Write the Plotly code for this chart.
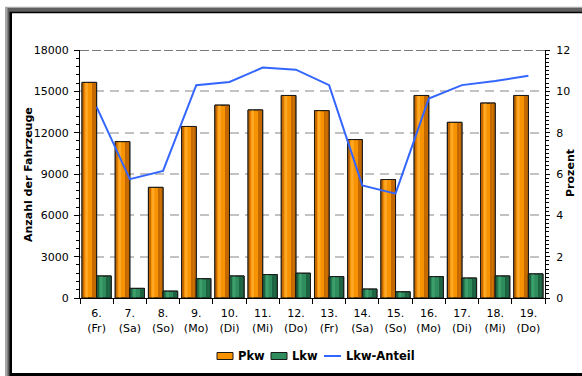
import plotly.graph_objects as go

# Daily traffic counts (cars, trucks) and truck share in percent
days = ["6.<br>(Fr)", "7.<br>(Sa)", "8.<br>(So)", "9.<br>(Mo)", "10.<br>(Di)",
        "11.<br>(Mi)", "12.<br>(Do)", "13.<br>(Fr)", "14.<br>(Sa)", "15.<br>(So)",
        "16.<br>(Mo)", "17.<br>(Di)", "18.<br>(Mi)", "19.<br>(Do)"]
pkw = [15650, 11350, 8030, 12450, 14000, 13650, 14700,
       13600, 11500, 8600, 14700, 12750, 14150, 14700]
lkw = [1600, 700, 500, 1400, 1600, 1700, 1800,
       1550, 650, 450, 1550, 1450, 1600, 1750]
lkw_anteil = [9.25, 5.75, 6.15, 10.3, 10.45, 11.15, 11.05,
              10.3, 5.45, 5.05, 9.65, 10.3, 10.5, 10.75]
series_names = ["Pkw", "Lkw", "Lkw-Anteil"]

FONT = "DejaVu Sans"
W, H = 582, 376
L, R, T, B = 80, 37, 50, 78
PW, PH = W - L - R, H - T - B

PKW_COL, PKW_EDGE, PKW_HI = "#f79200", "#c46800", "#ffa726"
LKW_COL, LKW_EDGE, LKW_HI = "#2f8c5c", "#1d6341", "#3da06c"
LINE_COL = "#3366ff"


def px(x):
    return (x - L) / PW


def py(y):
    return (H - B - y) / PH


BW = 0.44  # bar width in category units
fig = go.Figure()


def shaded_bars(vals, off, base_col, edge_col, hi_col, name):
    fig.add_bar(x=days, y=vals, name=name, offset=off, width=BW,
                marker=dict(color=base_col, line=dict(color="#1a1a1a", width=1)),
                yaxis="y")
    # cylinder-like shading strips
    for o, w, c in [(off + 0.02, 0.05, edge_col),
                    (off + 0.10, 0.08, hi_col),
                    (off + BW - 0.13, 0.05, edge_col),
                    (off + BW - 0.08, 0.07, edge_col)]:
        fig.add_bar(x=days, y=vals, offset=o, width=w, showlegend=False,
                    marker=dict(color=c, line=dict(width=0)), hoverinfo="skip")
    # outline on top
    fig.add_bar(x=days, y=vals, offset=off, width=BW, showlegend=False,
                marker=dict(color="rgba(0,0,0,0)", line=dict(color="#1a1a1a", width=1)),
                hoverinfo="skip")


shaded_bars(pkw, -BW, PKW_COL, PKW_EDGE, PKW_HI, series_names[0])
shaded_bars(lkw, 0.0, LKW_COL, LKW_EDGE, LKW_HI, series_names[1])

fig.add_scatter(x=days, y=lkw_anteil, name=series_names[2], mode="lines",
                line=dict(color=LINE_COL, width=2), yaxis="y2")

shapes = []
# framed border: light gray, dark gray, black, white inner panel
for x0, y0, col in [(5, 6.7, "#a8a8a8"), (7.5, 8, "#5f5f5f"),
                    (9.5, 11.7, "#000000")]:
    shapes.append(dict(type="rect", xref="paper", yref="paper", layer="below",
                       x0=px(x0), x1=px(700), y0=py(y0), y1=py(600),
                       fillcolor=col, line=dict(width=0)))
shapes.append(dict(type="rect", xref="paper", yref="paper", layer="below",
                   x0=px(12), x1=px(700), y0=py(13.3), y1=py(373),
                   fillcolor="#ffffff", line=dict(width=0)))
# top boundary of the plot area
shapes.append(dict(type="line", xref="paper", yref="y", layer="below",
                   x0=0, x1=1, y0=18000, y1=18000,
                   line=dict(color="#505050", width=1.5, dash="9px,3px")))

# compact legend row below the axis
LEG_Y = 356
annotations = []
for (sx0, sx1, tx), col, nm in [((217, 233, 236), PKW_COL, series_names[0]),
                                ((271, 287, 290), LKW_COL, series_names[1])]:
    shapes.append(dict(type="rect", xref="paper", yref="paper",
                       x0=px(sx0), x1=px(sx1), y0=py(LEG_Y - 3.5), y1=py(LEG_Y + 3.5),
                       fillcolor=col, line=dict(color="#1a1a1a", width=1)))
    annotations.append(dict(text="<b>%s</b>" % nm, xref="paper", yref="paper",
                            x=px(tx), y=py(LEG_Y), xanchor="left", yanchor="middle",
                            showarrow=False, font=dict(family=FONT, size=11.5)))
shapes.append(dict(type="line", xref="paper", yref="paper",
                   x0=px(324), x1=px(341), y0=py(LEG_Y), y1=py(LEG_Y),
                   line=dict(color=LINE_COL, width=2)))
annotations.append(dict(text="<b>%s</b>" % series_names[2], xref="paper", yref="paper",
                        x=px(344), y=py(LEG_Y), xanchor="left", yanchor="middle",
                        showarrow=False, font=dict(family=FONT, size=11.5)))

annotations += [
    dict(text="<b>Anzahl der Fahrzeuge</b>", xref="paper", yref="paper",
         x=px(28), y=py(175), xanchor="center", yanchor="middle",
         textangle=-90, showarrow=False, font=dict(family=FONT, size=11)),
    dict(text="<b>Prozent</b>", xref="paper", yref="paper",
         x=px(570), y=py(173), xanchor="center", yanchor="middle",
         textangle=-90, showarrow=False, font=dict(family=FONT, size=11)),
]

fig.update_layout(
    width=W, height=H,
    margin=dict(l=L, r=R, t=T, b=B),
    paper_bgcolor="#ffffff", plot_bgcolor="rgba(0,0,0,0)",
    barmode="overlay",
    font=dict(family=FONT, size=11, color="#000000"),
    shapes=shapes,
    annotations=annotations,
    showlegend=False,
    xaxis=dict(type="category", showline=True, linecolor="#000000", linewidth=1,
               ticks="outside", tickson="boundaries", ticklen=5, tickcolor="#000000",
               showgrid=False, tickfont=dict(size=11), tickangle=0,
               ticklabelstandoff=5, range=[-0.5, 13.5]),
    yaxis=dict(range=[0, 18000], dtick=3000, tickformat="d", showline=True,
               linecolor="#000000", linewidth=1, ticks="outside", ticklen=5,
               tickcolor="#000000",
               minor=dict(dtick=600, ticks="outside", ticklen=3, tickcolor="#000000"),
               showgrid=True, gridcolor="#c2c2c2", gridwidth=1.5, griddash="9px,6px",
               zeroline=False, tickfont=dict(size=11), ticklabelstandoff=3),
    yaxis2=dict(range=[0, 12], dtick=2, overlaying="y", side="right",
                showline=True, linecolor="#000000", linewidth=1,
                ticks="outside", ticklen=4, tickcolor="#000000",
                minor=dict(dtick=0.2, ticks="outside", ticklen=3, tickcolor="#000000"),
                showgrid=False, zeroline=False, tickfont=dict(size=11),
                ticklabelstandoff=4),
)

fig.write_html("out.html")
